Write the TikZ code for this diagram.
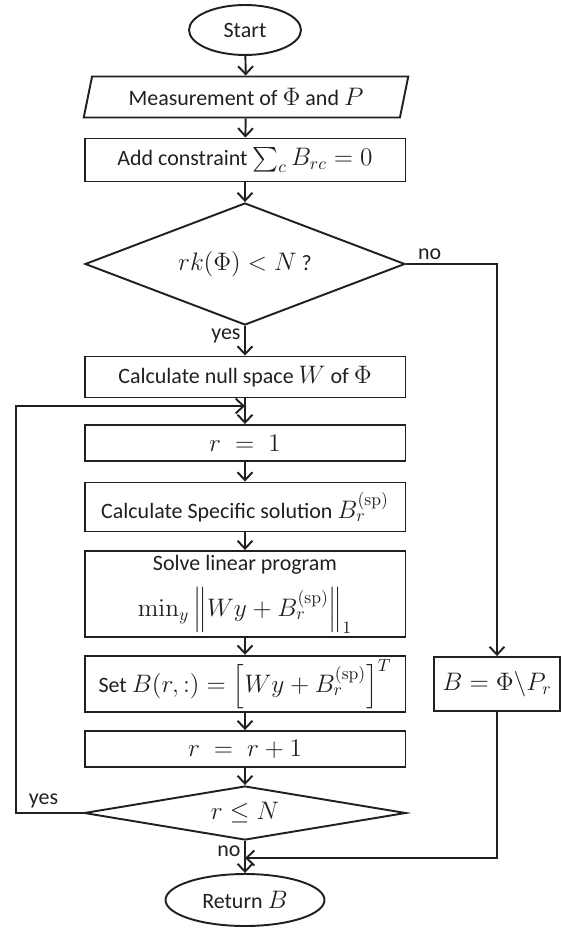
\documentclass[tikz,border=0pt]{standalone}
\usepackage{amsmath,amssymb}
\usepackage[no-math]{fontspec}
\setmainfont{Carlito}
\usetikzlibrary{arrows.meta,positioning,shapes.geometric,calc}
\DeclareMathSizes{12.5}{14}{10}{8}
\definecolor{inkgray}{RGB}{35,31,32}
\tikzset{
  procbox/.style={draw=inkgray,line width=1.1pt,minimum width=6.42cm,inner sep=2pt,align=center,text=inkgray},
  iobox/.style={draw=inkgray,line width=1.1pt,trapezium,trapezium left angle=75,trapezium right angle=105,
    trapezium stretches=true,minimum width=6.5cm,minimum height=0.82cm,inner sep=2pt,text=inkgray},
  termnode/.style={draw=inkgray,line width=1.1pt,ellipse,inner sep=0pt,text=inkgray},
  decnode/.style={draw=inkgray,line width=1.1pt,diamond,inner sep=0pt,text=inkgray},
  flowline/.style={-{Straight Barb[length=4.5pt,width=8.5pt]},line width=1.1pt,draw=inkgray},
  branchlabel/.style={inner sep=2pt,text=inkgray}
}
\begin{document}
\begin{tikzpicture}[x=0.02cm,y=-0.02cm,font=\fontsize{12.5}{14.5}\selectfont]
  \useasboundingbox (0,0) rectangle (563,928);
  % main column
  \node[termnode,minimum width=2.24cm,minimum height=1.0cm] (start) at (245,30) {Start};
  \node[iobox] (meas) at (246,97) {Measurement of $\Phi$ and $P$};
  \node[procbox,minimum height=0.86cm] (constr) at (245,160) {Add constraint $\sum_c B_{rc} = 0$};
  \node[decnode,aspect=2.6,minimum width=6.4cm,minimum height=2.44cm] (rank) at (245,264) {$rk(\Phi) < N$ ?};
  \node[procbox,minimum height=0.82cm] (null) at (245,377) {Calculate null space $W$ of $\Phi$};
  \node[procbox,minimum height=0.72cm] (rinit) at (245,443) {$r \;=\; 1$};
  \node[procbox,minimum height=0.98cm] (spec) at (245,507) {Calculate Specific solution $B_r^{(\mathrm{sp})}$};
  \node[procbox,minimum height=1.72cm] (lp) at (245,594)
    {Solve linear program\\[7pt] $\min_y \left\|Wy + B_r^{(\mathrm{sp})}\right\|_1$};
  \node[procbox,minimum height=1.08cm] (setb) at (245,684)
    {Set $B(r,:) = \left[Wy + B_r^{(\mathrm{sp})}\right]^T$};
  \node[procbox,minimum height=0.72cm] (rinc) at (245,749) {$r \;=\; r+1$};
  \node[decnode,aspect=6,minimum width=6.44cm,minimum height=1.08cm] (rle) at (245,813) {$r \leq N$};
  \node[termnode,minimum width=3.18cm,minimum height=1.04cm] (ret) at (245,900) {Return $B$};
  % right branch
  \node[procbox,minimum width=2.52cm,minimum height=1.08cm] (direct) at (497,684) {$B = \Phi\backslash P_r$};
  \coordinate (loopin) at (245,406);
  \coordinate (lrail) at (16,406);
  \coordinate (merge) at (245,858);
  \draw[flowline] (start) -- (meas);
  \draw[flowline] (meas) -- (constr);
  \draw[flowline] (constr) -- (rank);
  \draw[flowline] (rank) -- node[branchlabel,left,pos=0.35] {yes} (null);
  \draw[flowline] (rank.east) -- node[branchlabel,above,pos=0.26] {no} (rank.east -| direct) -- (direct);
  \draw[flowline] (null) -- (rinit);
  \draw[flowline] (rinit) -- (spec);
  \draw[flowline] (spec) -- (lp);
  \draw[flowline] (lp) -- (setb);
  \draw[flowline] (setb) -- (rinc);
  \draw[flowline] (rinc) -- (rle);
  \draw[flowline] (rle.west) -- node[branchlabel,above,pos=0.59] {yes} (rle.west -| lrail) -- (lrail) -- (loopin);
  \draw[flowline] (rle) -- node[branchlabel,left,pos=0.32] {no} (ret);
  \draw[flowline] (direct) -- (direct.south |- merge) -- (merge);
\end{tikzpicture}
\end{document}
